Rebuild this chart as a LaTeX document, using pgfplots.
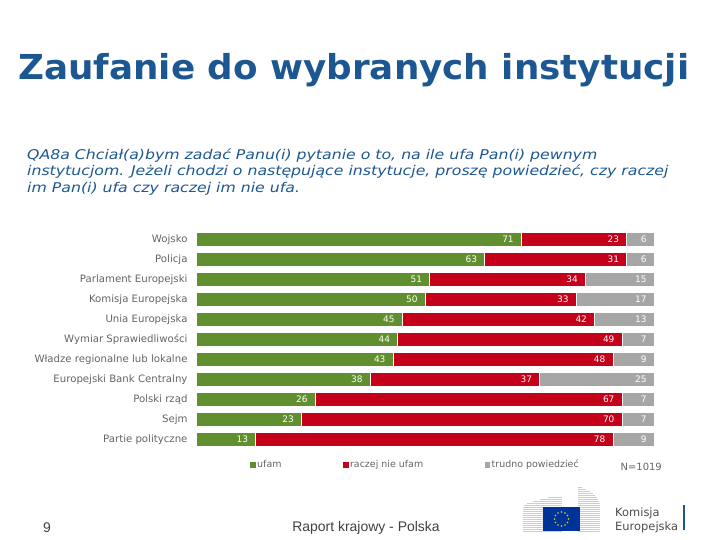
\documentclass[border=0pt]{standalone}
\usepackage{pgfplots}
\pgfplotsset{compat=1.18}
\usepackage{pgfplotstable}
\usepackage{fontspec}
\setmainfont{DejaVu Sans}
\newfontfamily\arialf{Liberation Sans}
\definecolor{cgreen}{RGB}{97,143,48}
\definecolor{cred}{RGB}{196,0,26}
\definecolor{cgray}{RGB}{166,166,166}
\definecolor{ctitle}{RGB}{28,87,145}
\definecolor{clabel}{RGB}{100,100,100}
\definecolor{ceu}{RGB}{0,51,153}
\definecolor{cstar}{RGB}{255,204,0}

\pgfplotstableread{
idx ufam nie trudno
0 71 23 6
1 63 31 6
2 51 34 15
3 50 33 17
4 45 42 13
5 44 49 7
6 43 48 9
7 38 37 25
8 26 67 7
9 23 70 7
10 13 78 9
}\data

\begin{document}
\begin{tikzpicture}[x=1bp,y=-1bp]
\useasboundingbox (0,0) rectangle (720,540);
% title
\node[anchor=base west, text=ctitle, font=\bfseries\fontsize{34.5}{36}\selectfont, inner sep=0] at (18,79.5) {\scalebox{1.04}[1]{Zaufanie do wybranych instytucji}};
% question
\node[anchor=base west, text=ctitle, font=\itshape\fontsize{13.5}{17}\selectfont, inner sep=0] at (27,159.5) {\scalebox{1.17}[1]{QA8a Chciał(a)bym zadać Panu(i) pytanie o to, na ile ufa Pan(i) pewnym}};
\node[anchor=base west, text=ctitle, font=\itshape\fontsize{13.5}{17}\selectfont, inner sep=0] at (27,176) {\scalebox{1.17}[1]{instytucjom. Jeżeli chodzi o następujące instytucje, proszę powiedzieć, czy raczej}};
\node[anchor=base west, text=ctitle, font=\itshape\fontsize{13.5}{17}\selectfont, inner sep=0] at (27,192.5) {\scalebox{1.17}[1]{im Pan(i) ufa czy raczej im nie ufa.}};

\begin{axis}[
  at={(196bp,-449.5bp)}, anchor=south west,
  scale only axis, width=458bp, height=220bp,
  xbar stacked, bar width=14bp,
  xmin=0, xmax=100, ymin=-0.5, ymax=10.5, y dir=reverse,
  axis line style={draw=none}, tick style={draw=none},
  major tick length=0,
  xtick=\empty,
  ytick={0,1,2,3,4,5,6,7,8,9,10},
  yticklabels={Wojsko,Policja,Parlament Europejski,Komisja Europejska,Unia Europejska,Wymiar Sprawiedliwości,Władze regionalne lub lokalne,Europejski Bank Centralny,Polski rząd,Sejm,Partie polityczne},
  yticklabel style={font=\fontsize{10.2}{11}\selectfont, text=clabel, xshift=-5bp},
  /pgf/number format/assume math mode=true,
  nodes near coords, point meta=explicit,
  every node near coord/.append style={anchor=east, xshift=\seg*2.29bp-4bp, text=white, font=\fontsize{9}{10}\selectfont},
  clip=false,
  legend columns=3,
  legend style={at={(0.118,-0.07)}, anchor=west, draw=none, fill=none, inner sep=0pt,
    font=\fontsize{9.5}{10}\selectfont, text=clabel,
    nodes={inner sep=1.5bp},
    /tikz/every even column/.append style={column sep=60bp}},
  legend image code/.code={\fill[#1, draw=none] (0bp,-2.7bp) rectangle (5.5bp,2.7bp);},
]
\addplot[fill=cgreen, draw=white, line width=0.4bp, visualization depends on={\thisrow{ufam}\as\seg}] table[x=ufam, y=idx, meta=ufam]{\data};
\addplot[fill=cred, draw=white, line width=0.4bp, visualization depends on={\thisrow{nie}\as\seg}] table[x=nie, y=idx, meta=nie]{\data};
\addplot[fill=cgray, draw=white, line width=0.4bp, visualization depends on={\thisrow{trudno}\as\seg}] table[x=trudno, y=idx, meta=trudno]{\data};
\legend{ufam, raczej nie ufam, trudno powiedzieć}
\end{axis}

\node[anchor=base east, text=clabel, font=\fontsize{10}{11}\selectfont, inner sep=0] at (662,470) {N=1019};

% footer
\node[anchor=base, text=black!75, font=\arialf\fontsize{14}{15}\selectfont, inner sep=0] at (47,532) {9};
\node[anchor=base, text=black!75, font=\arialf\fontsize{14}{15}\selectfont, inner sep=0] at (366,531) {Raport krajowy - Polska};

% logo: stylised building
\foreach \yy/\xs/\xe in {497/548/562,499/540/562,501/533/562,503/527/562,505/524/562,507/523/562,509/523/562,511/523/562,513/523/562,515/523/562,517/523/562,519/523/562,521/523/562,523/523/562,525/523/562,527/523/562,529/523/562,531/523/562} {
  \draw[black!20, line width=0.6bp] (\xs,\yy) -- (\xe,\yy);
}
\foreach \yy/\xs/\xe in {487/578/582,489/578/586,491/578/590,493/578/593,495/578/595,497/578/597,499/578/598,501/578/599,503/578/600,505/578/600,507/578/600,509/578/600,511/578/600,513/578/600,515/578/600,517/578/600,519/578/600,521/578/600,523/578/600,525/578/600,527/578/600,529/578/600,531/578/600} {
  \draw[black!20, line width=0.6bp] (\xs,\yy) -- (\xe,\yy);
}
\fill[ceu] (543,507) rectangle (580,531);
\foreach \a in {0,30,...,330} {
  \fill[cstar, shift={(561.5,519)}] (\a:7) circle (0.9);
}
\node[anchor=base west, text=black!70, font=\fontsize{11.5}{12}\selectfont, inner sep=0] at (615,516) {Komisja};
\node[anchor=base west, text=black!70, font=\fontsize{11.5}{12}\selectfont, inner sep=0] at (615,530) {Europejska};
\draw[ctitle, line width=1.5bp] (684,505) -- (684,530);
\end{tikzpicture}
\end{document}
